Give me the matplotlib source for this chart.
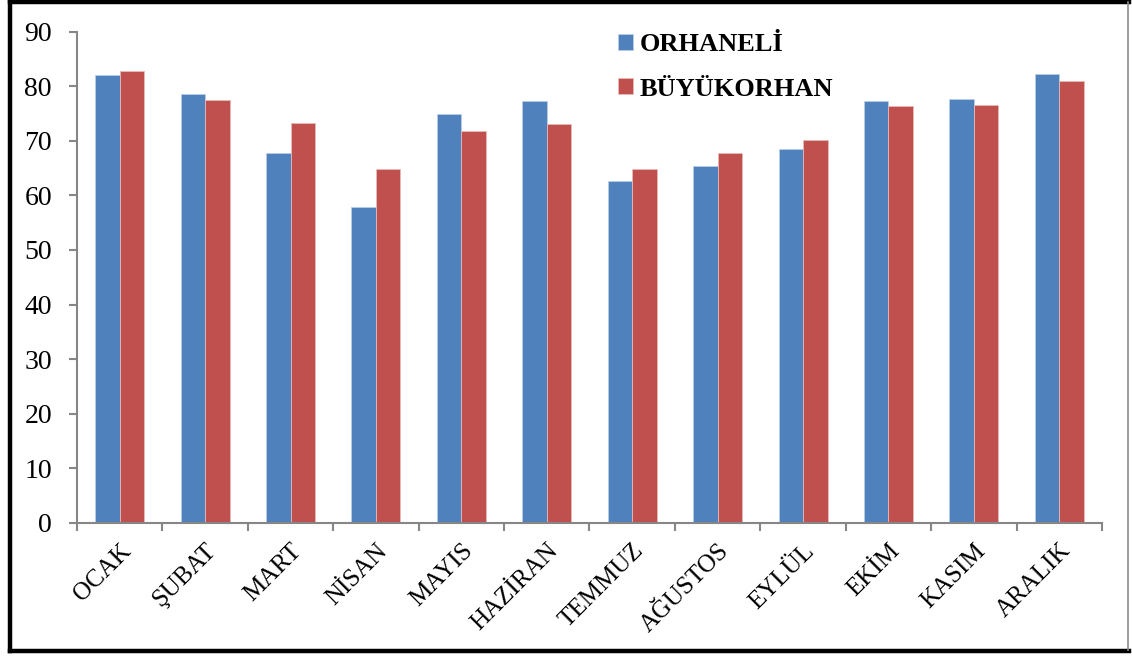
#!/usr/bin/env python3

import numpy
import matplotlib
from matplotlib import pyplot as plt
from matplotlib.lines import Line2D

matplotlib.use('Agg')

months = ['OCAK', 'ŞUBAT', 'MART', 'NİSAN', 'MAYIS', 'HAZİRAN',
          'TEMMUZ', 'AĞUSTOS', 'EYLÜL', 'EKİM', 'KASIM', 'ARALIK']
orhaneli = [82.0, 78.6, 67.7, 57.9, 74.9, 77.3, 62.7, 65.4, 68.4, 77.2, 77.6, 82.2]
buyukorhan = [82.7, 77.4, 73.2, 64.8, 71.7, 73.0, 64.8, 67.7, 70.1, 76.3, 76.6, 81.0]
series_names = ['ORHANELİ', 'BÜYÜKORHAN']
yticks = [0, 10, 20, 30, 40, 50, 60, 70, 80, 90]

blue = '#4F81BD'
red = '#C0504D'
axis_grey = '#868686'

plt.rcParams['font.family'] = ['Liberation Serif', 'DejaVu Serif']

fig = plt.figure(figsize=(11.32, 6.57), dpi=100)
ax = fig.add_axes([0.068, 0.204, 0.9055, 0.748])

x = numpy.arange(len(months)) + 0.5
w = 0.287
ax.bar(x - w / 2, orhaneli, w, color=blue, edgecolor='#B9CDE5', linewidth=0.6, label=series_names[0])
ax.bar(x + w / 2, buyukorhan, w, color=red, edgecolor='#E6B9B8', linewidth=0.6, label=series_names[1])

ax.set_xlim(0, len(months))
ax.set_ylim(0, 90)
ax.set_yticks(yticks)
ax.set_yticklabels([str(v) for v in yticks], fontsize=20)

# category boundary ticks, labels in the middle
ax.set_xticks(numpy.arange(len(months) + 1))
ax.set_xticklabels([])
ax.set_xticks(x, minor=True)
ax.set_xticklabels(months, minor=True, rotation=45, ha='right', va='top',
                   rotation_mode='anchor', fontsize=18)
ax.tick_params(axis='x', which='minor', length=0, pad=12)
ax.tick_params(axis='x', which='major', length=6, width=1.5, color=axis_grey)
ax.tick_params(axis='y', length=6, width=1.5, color=axis_grey, pad=12)

for side in ['top', 'right']:
    ax.spines[side].set_visible(False)
for side in ['left', 'bottom']:
    ax.spines[side].set_color(axis_grey)
    ax.spines[side].set_linewidth(1.5)

leg = ax.legend(loc='upper left', bbox_to_anchor=(0.528, 0.997), frameon=False,
                prop={'weight': 'bold', 'size': 19}, handlelength=0.55,
                handleheight=0.55, handletextpad=0.25, labelspacing=0.82,
                borderpad=0, borderaxespad=0)

# outer frame
W, H = 1132, 657
frame = [((10, 10), (2, 651)), ((10, 1129), (2, 2)), ((10, 1129), (651, 651))]
for xs, ys in frame:
    fig.add_artist(Line2D([v / W for v in xs], [1 - v / H for v in ys],
                          color='black', linewidth=3.2, transform=fig.transFigure))
fig.add_artist(Line2D([1128 / W, 1128 / W], [1 - 2 / H, 1 - 650 / H],
                      color='#8c8c8c', linewidth=1.2, transform=fig.transFigure))

plt.savefig('out.png', dpi=100)
